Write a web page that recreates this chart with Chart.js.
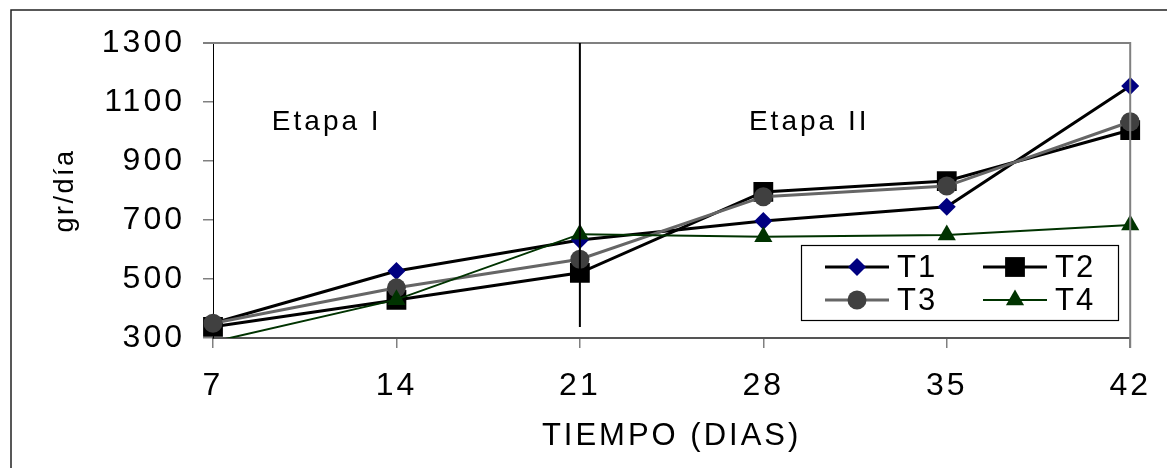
<!DOCTYPE html>
<html>
<head>
<meta charset="utf-8">
<script src="https://cdn.jsdelivr.net/npm/chart.js@4/dist/chart.umd.min.js"></script>
<style>
  html, body { margin: 0; padding: 0; background: #fff; }
  #wrap { width: 1167px; height: 468px; }
</style>
</head>
<body>
<div id="wrap"><canvas id="chart" width="1167" height="468"></canvas></div>
<script>
// days (x axis categories)
const days = ["7", "14", "21", "28", "35", "42"];

// gr/día per treatment
const t1 = [350, 527, 632, 697, 745, 1154];
const t2 = [338, 429, 521, 795, 832, 1005];
const t3 = [350, 470, 567, 779, 815, 1033];
const t4 = [287, 430, 652, 643, 649, 683];

const seriesNames = ["T1", "T2", "T3", "T4"];
const stageLabels = ["Etapa I", "Etapa II"];

const FONT = "'Liberation Sans', Arial, sans-serif";

// wrap a scale draw method so its text gets letter spacing
function spaced(px, fn) {
  return function (...args) {
    const ctx = this.ctx;
    ctx.save();
    ctx.letterSpacing = px;
    fn.apply(this, args);
    ctx.restore();
  };
}

const extras = {
  id: "extras",
  beforeDraw(chart) {
    const ctx = chart.ctx;
    ctx.save();
    ctx.strokeStyle = "#222";
    ctx.lineWidth = 1.5;
    ctx.strokeRect(11, 10, 1300, 600);
    ctx.restore();
  },
  afterDatasetsDraw(chart) {
    const ctx = chart.ctx;
    const a = chart.chartArea;
    const x = chart.scales.x;
    const y = chart.scales.y;

    ctx.save();
    // plot box: top and right in grey
    ctx.strokeStyle = "#808080";
    ctx.lineWidth = 2;
    ctx.beginPath();
    ctx.moveTo(a.left - 10, a.top);
    ctx.lineTo(a.right, a.top);
    ctx.lineTo(a.right, a.bottom + 10);
    ctx.stroke();

    // divider between stages, at day 21
    const dx = x.getPixelForValue(2);
    ctx.strokeStyle = "#000";
    ctx.lineWidth = 2;
    ctx.beginPath();
    ctx.moveTo(dx, a.top);
    ctx.lineTo(dx, y.getPixelForValue(337));
    ctx.stroke();

    // stage labels
    ctx.fillStyle = "#000";
    ctx.font = "28px " + FONT;
    ctx.letterSpacing = "3px";
    ctx.textAlign = "center";
    ctx.textBaseline = "middle";
    ctx.fillText(stageLabels[0], x.getPixelForValue(0.62), y.getPixelForValue(1032));
    ctx.fillText(stageLabels[1], x.getPixelForValue(3.25), y.getPixelForValue(1032));
    ctx.restore();

    // legend box
    ctx.save();
    ctx.fillStyle = "#fff";
    ctx.fillRect(801, 245, 317, 75);
    ctx.strokeStyle = "#000";
    ctx.lineWidth = 1.2;
    ctx.strokeRect(801.5, 245.5, 317, 75);
    const cols = [825, 983];
    const rows = [267, 300];
    chart.data.datasets.forEach((ds, i) => {
      const lx = cols[i % 2];
      const ly = rows[Math.floor(i / 2)];
      ctx.strokeStyle = ds.borderColor;
      ctx.lineWidth = ds.borderWidth;
      ctx.beginPath();
      ctx.moveTo(lx, ly);
      ctx.lineTo(lx + 64, ly);
      ctx.stroke();
      ctx.fillStyle = ds.pointBackgroundColor;
      ctx.strokeStyle = ds.pointBorderColor;
      Chart.helpers.drawPoint(ctx, {
        pointStyle: ds.pointStyle,
        radius: ds.legendRadius,
        rotation: 0,
        borderWidth: 0
      }, lx + 32, ly);
      ctx.fillStyle = "#000";
      ctx.font = "31px " + FONT;
      ctx.letterSpacing = "2px";
      ctx.textAlign = "left";
      ctx.textBaseline = "middle";
      ctx.fillText(ds.label, lx + 72, ly + 1);
    });
    ctx.restore();
  }
};

new Chart(document.getElementById("chart"), {
  type: "line",
  data: {
    labels: days,
    datasets: [
      {
        label: seriesNames[0],
        data: t1,
        borderColor: "#000000",
        borderWidth: 3,
        pointStyle: "rectRot",
        pointRadius: 9,
        legendRadius: 9,
        pointBackgroundColor: "#000080",
        pointBorderColor: "#000080",
        pointBorderWidth: 0,
        order: 4
      },
      {
        label: seriesNames[1],
        data: t2,
        borderColor: "#000000",
        borderWidth: 3,
        pointStyle: "rect",
        pointRadius: 14,
        legendRadius: 14,
        pointBackgroundColor: "#000000",
        pointBorderColor: "#000000",
        pointBorderWidth: 0,
        order: 3
      },
      {
        label: seriesNames[2],
        data: t3,
        borderColor: "#666666",
        borderWidth: 3,
        pointStyle: "circle",
        pointRadius: 9.5,
        legendRadius: 9.5,
        pointBackgroundColor: "#404040",
        pointBorderColor: "#404040",
        pointBorderWidth: 0,
        order: 2
      },
      {
        label: seriesNames[3],
        data: t4,
        borderColor: "#003300",
        borderWidth: 2,
        pointStyle: "triangle",
        pointRadius: [0, 10.5, 10.5, 10.5, 10.5, 10.5],
        legendRadius: 10.5,
        pointBackgroundColor: "#003300",
        pointBorderColor: "#003300",
        pointBorderWidth: 0,
        order: 1
      }
    ]
  },
  options: {
    responsive: false,
    animation: false,
    layout: { padding: { left: 0, right: 34, top: 43, bottom: 0 } },
    plugins: {
      legend: { display: false },
      tooltip: { enabled: false }
    },
    elements: { line: { tension: 0 } },
    scales: {
      x: {
        type: "category",
        offset: false,
        border: { color: "#555555", width: 2 },
        grid: {
          drawOnChartArea: false,
          drawTicks: true,
          tickLength: 10,
          color: "#808080",
          lineWidth: 1.5
        },
        ticks: {
          color: "#000",
          font: { family: FONT, size: 32 },
          padding: 19,
          maxRotation: 0,
          autoSkip: false
        },
        title: {
          display: true,
          text: "TIEMPO (DIAS)",
          color: "#000",
          font: { family: FONT, size: 31 },
          padding: { top: 0, bottom: 13 }
        },
        afterFit(scale) {
          scale.height = 130;
          if (!scale._spaced) {
            scale._spaced = true;
            scale.drawTitle = spaced("3px", scale.drawTitle);
            scale.drawLabels = spaced("3px", scale.drawLabels);
          }
        }
      },
      y: {
        min: 300,
        max: 1300,
        border: { color: "#000000", width: 1 },
        grid: {
          drawOnChartArea: false,
          drawTicks: true,
          tickLength: 10,
          color: "#808080",
          lineWidth: 1.5
        },
        ticks: {
          stepSize: 200,
          color: "#000",
          font: { family: FONT, size: 32 },
          padding: 18,
          callback: (value) => String(value)
        },
        title: {
          display: true,
          text: "gr/día",
          color: "#000",
          font: { family: FONT, size: 27 },
          padding: { top: 49, bottom: 0 }
        },
        afterFit(scale) {
          scale.width = 213;
          if (!scale._spaced) {
            scale._spaced = true;
            scale.drawTitle = spaced("2.5px", scale.drawTitle);
            scale.drawLabels = spaced("3px", scale.drawLabels);
          }
        }
      }
    }
  },
  plugins: [extras]
});
</script>
</body>
</html>
